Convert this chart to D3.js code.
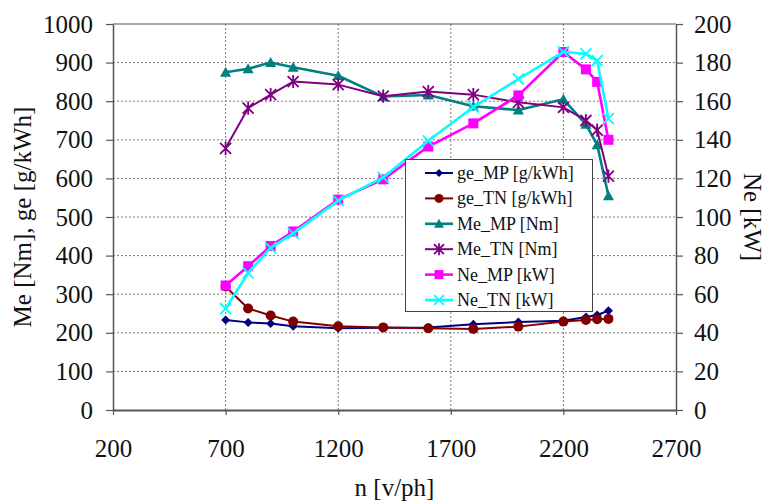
<!DOCTYPE html>
<html>
<head>
<meta charset="utf-8">
<script src="https://cdn.jsdelivr.net/npm/d3@7"></script>
<style>
  html, body { margin: 0; padding: 0; background: #fff; }
  svg { display: block; }
  text { font-family: "Liberation Serif", "Times New Roman", serif; fill: #111; }
</style>
</head>
<body>
<svg id="chart" width="765" height="504"></svg>
<script>
// ---- data ----
const speeds = [700, 800, 900, 1000, 1200, 1400, 1600, 1800, 2000, 2200, 2300, 2350, 2400];
const geMP = [233, 227, 224, 217, 212, 213, 214, 222, 228, 231, 241, 246, 257];
const geTN = [320, 263, 245, 229, 217, 214, 212, 210, 216, 229, 233, 235, 236];
const meMP = [875, 884, 900, 888, 866, 812, 816, 787, 777, 805, 740, 687, 555];
const meTN = [678, 782, 817, 851, 843, 813, 825, 817, 797, 784, 750, 725, 606];
const neMP = [64.5, 74.5, 85, 92.5, 109, 119.5, 136.5, 148.5, 163, 185.5, 176.5, 170, 140];
const neTN = [52.5, 71, 84, 91.5, 108.5, 120.5, 139.5, 157, 171.5, 185.5, 184.5, 181, 151];
const seriesNames = ["ge_MP [g/kWh]", "ge_TN [g/kWh]", "Me_MP [Nm]", "Me_TN [Nm]", "Ne_MP [kW]", "Ne_TN [kW]"];
const xTicks = [200, 700, 1200, 1700, 2200, 2700];
const yLeftTicks = [0, 100, 200, 300, 400, 500, 600, 700, 800, 900, 1000];
const yRightTicks = [0, 20, 40, 60, 80, 100, 120, 140, 160, 180, 200];
const xTitle = "n [v/ph]";
const yLeftTitle = "Me [Nm], ge [g/kWh]";
const yRightTitle = "Ne [kW]";

// ---- layout ----
const L = 113, R = 676, T = 24, B = 410;
const svg = d3.select("#chart");
const x = d3.scaleLinear().domain([200, 2700]).range([L, R]);
const yL = d3.scaleLinear().domain([0, 1000]).range([B, T]);
const yR = d3.scaleLinear().domain([0, 200]).range([B, T]);
const fmt = d3.format("d");

// grid
const grid = svg.append("g");
grid.selectAll("line.h").data(yLeftTicks.filter(v => v > 0 && v < 1000)).join("line")
  .attr("x1", L).attr("x2", R).attr("y1", d => yL(d)).attr("y2", d => yL(d))
  .attr("stroke", "#7a7a7a").attr("stroke-width", 1).attr("stroke-dasharray", "2,2");
grid.selectAll("line.v").data(xTicks.filter(v => v > 200 && v < 2700)).join("line")
  .attr("y1", T).attr("y2", B).attr("x1", d => x(d)).attr("x2", d => x(d))
  .attr("stroke", "#7a7a7a").attr("stroke-width", 1).attr("stroke-dasharray", "2,2");

// top border
svg.append("line").attr("x1", L).attr("x2", R).attr("y1", T).attr("y2", T)
  .attr("stroke", "#555").attr("stroke-width", 1.2);

// axes
const axStyle = g => {
  g.selectAll(".domain").attr("stroke", "#555").attr("stroke-width", 1.5);
  g.selectAll(".tick line").attr("stroke", "#555").attr("stroke-width", 1.2);
  g.selectAll(".tick text").attr("font-family", "Liberation Serif, serif").attr("font-size", 25).attr("fill", "#111");
};
svg.append("g").attr("transform", `translate(0,${B})`)
  .call(d3.axisBottom(x).tickValues(xTicks).tickFormat(fmt).tickSize(5).tickPadding(24).tickSizeOuter(0))
  .call(axStyle)
  .call(g => g.select(".domain").attr("stroke-width", 2.2));
svg.append("g").attr("transform", `translate(${L},0)`)
  .call(d3.axisLeft(yL).tickValues(yLeftTicks).tickFormat(fmt).tickSize(7).tickPadding(13).tickSizeOuter(0))
  .call(axStyle);
svg.append("g").attr("transform", `translate(${R},0)`)
  .call(d3.axisRight(yR).tickValues(yRightTicks).tickFormat(fmt).tickSize(7).tickPadding(11).tickSizeOuter(0))
  .call(axStyle);

// titles
svg.append("text").attr("x", (L + R) / 2).attr("y", 496).attr("text-anchor", "middle")
  .attr("font-size", 25).text(xTitle);
svg.append("text").attr("transform", `translate(31,${(T + B) / 2}) rotate(-90)`)
  .attr("text-anchor", "middle").attr("font-size", 25).text(yLeftTitle);
svg.append("text").attr("transform", `translate(744,${(T + B) / 2}) rotate(90)`)
  .attr("text-anchor", "middle").attr("font-size", 25).text(yRightTitle);

// marker shapes
function markerPath(type, s) {
  const h = s / 2;
  switch (type) {
    case "diamond": return `M0,${-h}L${h},0L0,${h}L${-h},0Z`;
    case "triangle": return `M0,${-h}L${h},${h * 0.8}L${-h},${h * 0.8}Z`;
    case "square": return `M${-h},${-h}H${h}V${h}H${-h}Z`;
    case "x": return `M${-h},${-h}L${h},${h}M${-h},${h}L${h},${-h}`;
    case "star": return `M${-h},${-h}L${h},${h}M${-h},${h}L${h},${-h}M0,${-h * 1.2}V${h * 1.2}`;
    default: return "";
  }
}

const series = [
  { name: seriesNames[0], vals: geMP, y: yL, color: "#000080", marker: "diamond", size: 9, lw: 2 },
  { name: seriesNames[1], vals: geTN, y: yL, color: "#800000", marker: "circle", size: 10, lw: 2 },
  { name: seriesNames[2], vals: meMP, y: yL, color: "#008080", marker: "triangle", size: 11, lw: 2.6 },
  { name: seriesNames[3], vals: meTN, y: yL, color: "#800080", marker: "star", size: 11, lw: 2 },
  { name: seriesNames[4], vals: neMP, y: yR, color: "#FF00FF", marker: "square", size: 10, lw: 2.6 },
  { name: seriesNames[5], vals: neTN, y: yR, color: "#00FFFF", marker: "x", size: 11, lw: 2.6 }
];

function drawMarker(g, s, cx, cy, scale) {
  const sz = s.size * (scale || 1);
  if (s.marker === "circle") {
    g.append("circle").attr("cx", cx).attr("cy", cy).attr("r", sz / 2).attr("fill", s.color);
  } else if (s.marker === "x" || s.marker === "star") {
    g.append("path").attr("transform", `translate(${cx},${cy})`).attr("d", markerPath(s.marker, sz))
      .attr("fill", "none").attr("stroke", s.color).attr("stroke-width", 1.8);
  } else {
    g.append("path").attr("transform", `translate(${cx},${cy})`).attr("d", markerPath(s.marker, sz))
      .attr("fill", s.color);
  }
}

const plot = svg.append("g");
series.forEach(s => {
  const pts = speeds.map((n, i) => [x(n), s.y(s.vals[i])]);
  plot.append("path").attr("d", d3.line()(pts)).attr("fill", "none")
    .attr("stroke", s.color).attr("stroke-width", s.lw).attr("stroke-linejoin", "round");
  const mg = plot.append("g");
  pts.forEach(p => drawMarker(mg, s, p[0], p[1]));
});

// legend
const lg = svg.append("g");
lg.append("rect").attr("x", 405.5).attr("y", 159.5).attr("width", 187).attr("height", 152)
  .attr("fill", "#fff").attr("stroke", "#444").attr("stroke-width", 1);
series.forEach((s, i) => {
  const cy = 173 + i * 25.4;
  lg.append("line").attr("x1", 425).attr("x2", 453).attr("y1", cy).attr("y2", cy)
    .attr("stroke", s.color).attr("stroke-width", s.lw);
  drawMarker(lg, s, 439, cy, 0.9);
  lg.append("text").attr("x", 457).attr("y", cy + 6).attr("font-size", 18).text(s.name);
});
</script>
</body>
</html>
